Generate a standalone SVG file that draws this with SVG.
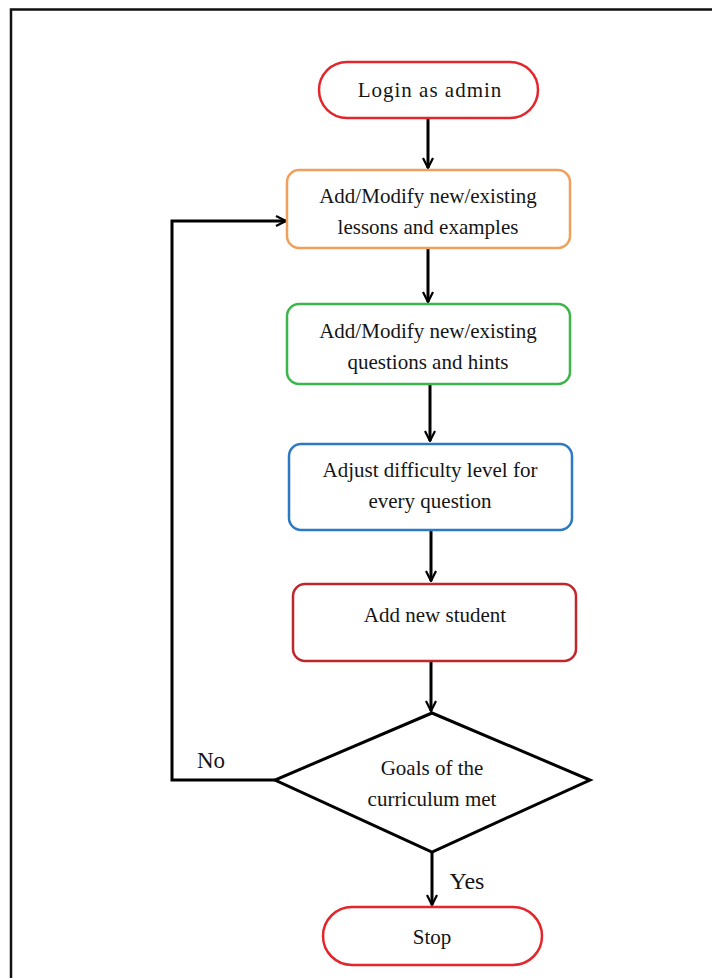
<svg xmlns="http://www.w3.org/2000/svg" width="712" height="978" viewBox="0 0 712 978">
  <style>
    .lbl { font-family: "Liberation Serif", "Times New Roman", serif; font-size: 21px; fill: #151515; text-anchor: middle; }
    .box { fill: #ffffff; stroke-width: 2.5; }
    .edge { fill: none; stroke: #000000; stroke-width: 3; }
  </style>
  <defs>
    <marker id="arrow" viewBox="0 0 12 12" refX="11" refY="6" markerWidth="12" markerHeight="12" markerUnits="userSpaceOnUse" orient="auto">
      <path d="M1,1 L11,6 L1,11" fill="none" stroke="#000" stroke-width="2.2"/>
    </marker>
  </defs>
  <rect width="712" height="978" fill="#ffffff"/>
  <!-- page frame -->
  <path d="M11,978 L11,9.5 L712,9.5" fill="none" stroke="#111" stroke-width="2.5"/>

  <g id="connectors">
    <line class="edge" x1="428" y1="118" x2="428" y2="168" marker-end="url(#arrow)"/>
    <line class="edge" x1="428" y1="249" x2="428" y2="302" marker-end="url(#arrow)"/>
    <line class="edge" x1="430" y1="385" x2="430" y2="441" marker-end="url(#arrow)"/>
    <line class="edge" x1="431" y1="531" x2="431" y2="581" marker-end="url(#arrow)"/>
    <line class="edge" x1="431" y1="662" x2="431" y2="711" marker-end="url(#arrow)"/>
    <line class="edge" x1="432" y1="852" x2="432" y2="905" marker-end="url(#arrow)"/>
    <polyline class="edge" points="275,780 172,780 172,221 286,221" marker-end="url(#arrow)"/>
    <text class="lbl" x="211" y="768" style="font-size:23px">No</text>
    <text class="lbl" x="467" y="889" style="font-size:24px">Yes</text>
  </g>

  <g id="login">
    <rect class="box" x="319" y="62" width="219" height="56" rx="28" stroke="#e3262b"/>
    <text class="lbl" x="430" y="97" letter-spacing="1">Login as admin</text>
  </g>

  <g id="lessons">
    <rect class="box" x="287" y="170" width="283" height="78" rx="12" stroke="#f0a05a"/>
    <text class="lbl" x="428" y="203">Add/Modify new/existing</text>
    <text class="lbl" x="428" y="234">lessons and examples</text>
  </g>

  <g id="questions">
    <rect class="box" x="287" y="304" width="283" height="80" rx="12" stroke="#3cb54a"/>
    <text class="lbl" x="428" y="338">Add/Modify new/existing</text>
    <text class="lbl" x="428" y="369">questions and hints</text>
  </g>

  <g id="difficulty">
    <rect class="box" x="289" y="444" width="283" height="86" rx="12" stroke="#2d7ac2"/>
    <text class="lbl" x="430" y="477">Adjust difficulty level for</text>
    <text class="lbl" x="430" y="508">every question</text>
  </g>

  <g id="student">
    <rect class="box" x="293" y="584" width="283" height="77" rx="12" stroke="#c0272d"/>
    <text class="lbl" x="435" y="622">Add new student</text>
  </g>

  <g id="goals">
    <polygon points="432,713 590,780 432,852 275,780" fill="#ffffff" stroke="#000" stroke-width="3"/>
    <text class="lbl" x="432" y="775">Goals of the</text>
    <text class="lbl" x="432" y="806">curriculum met</text>
  </g>

  <g id="stop">
    <rect class="box" x="323" y="907" width="219" height="58" rx="29" stroke="#e3262b"/>
    <text class="lbl" x="432" y="944">Stop</text>
  </g>
</svg>
